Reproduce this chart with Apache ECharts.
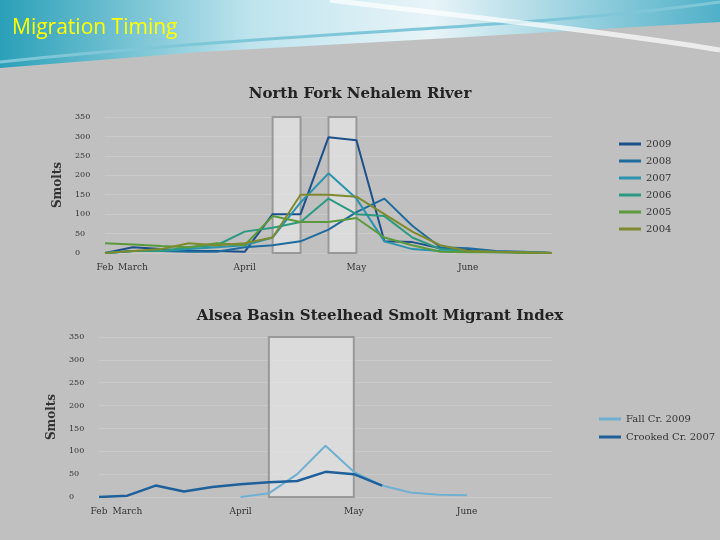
<!DOCTYPE html>
<html><head><meta charset="utf-8">
<script src="https://cdn.jsdelivr.net/npm/echarts@6/dist/echarts.min.js"></script>
<style>html,body{margin:0;padding:0;background:#c0c0c0}#main{width:720px;height:540px}</style>
</head><body><div id="main"></div>
<script>
var weeks = ['Feb','March','','','','April','','','','May','','','','June','','',''];
// North Fork Nehalem River (weekly smolts)
var y2009 = [0,15,10,5,5,3,100,100,298,290,30,28,12,8,3,2,0];
var y2008 = [0,5,5,3,3,15,20,30,60,105,140,70,15,12,5,3,0];
var y2007 = [0,5,5,10,15,20,40,130,205,140,30,10,5,3,2,2,0];
var y2006 = [0,5,5,15,20,55,65,80,140,100,95,40,10,5,3,2,0];
var y2005 = [25,22,18,15,25,20,95,80,80,90,40,20,3,2,2,0,0];
var y2004 = [0,5,10,25,20,25,40,150,150,145,100,55,20,5,3,2,0];
// Alsea Basin index
var fallCr2009 = [null,null,null,null,null,0,8,50,112,55,25,10,5,4,null,null,null];
var crookedCr2007 = [0,3,25,12,22,28,32,35,55,50,25,null,null,null,null,null,null];
var topNames = ['2009','2008','2007','2006','2005','2004'];
var topColors = ['#1d4f8a','#1f6b9e','#2a93ad','#2b9a80','#5b9a3c','#7f8a2e'];

var myChart = echarts.init(document.getElementById('main'));
var serif = 'DejaVu Serif';

function xAxisOpt(gi){
    return {type:'category',gridIndex:gi,data:weeks,boundaryGap:false,
        axisLine:{show:false},axisTick:{show:false},
        axisLabel:{interval:0,color:'#333',fontFamily:serif,fontSize:9,margin:10}};
}
function yAxisOpt(gi){
    return {type:'value',gridIndex:gi,min:0,max:350,interval:50,name:'Smolts',
        nameLocation:'middle',nameGap:38,nameRotate:90,
        nameTextStyle:{fontFamily:serif,fontWeight:'bold',fontSize:12,color:'#333'},
        axisLabel:{color:'#333',fontFamily:serif,fontSize:8,margin:30,align:'left'},
        splitLine:{lineStyle:{color:'#cacaca'}}};
}
function shade(gi,ranges){
    return {type:'line',xAxisIndex:gi,yAxisIndex:gi,data:[],z:10,silent:true,
        markArea:{silent:true,itemStyle:{color:'rgba(228,228,228,0.75)',borderColor:'#999',borderWidth:2},
            data:ranges.map(function(r){return [{xAxis:r[0],yAxis:0},{xAxis:r[1],yAxis:350}];})}};
}

var topData = [y2009,y2008,y2007,y2006,y2005,y2004];
var series = topData.map(function(d,i){
    return {name:topNames[i],type:'line',xAxisIndex:0,yAxisIndex:0,data:d,symbol:'none',
        lineStyle:{width:2,color:topColors[i]},itemStyle:{color:topColors[i]}};
});
series.push(shade(0,[[6,7],[8,9]]));
series.push({name:'Fall Cr. 2009',type:'line',xAxisIndex:1,yAxisIndex:1,data:fallCr2009,symbol:'none',
    lineStyle:{width:2,color:'#6fb0d2'},itemStyle:{color:'#6fb0d2'}});
series.push({name:'Crooked Cr. 2007',type:'line',xAxisIndex:1,yAxisIndex:1,data:crookedCr2007,symbol:'none',
    lineStyle:{width:2.5,color:'#1f5f9a'},itemStyle:{color:'#1f5f9a'}});
series.push(shade(1,[[6,9]]));

var option = {
    backgroundColor:'#c0c0c0',
    animation:false,
    graphic:[
        {type:'rect',shape:{x:0,y:0,width:720,height:72},z:-1,
            style:{fill:new echarts.graphic.LinearGradient(0,0,1,0,[{offset:0,color:'#2aa0b8'},{offset:0.35,color:'#bfe4ee'},{offset:0.6,color:'#e8f4f8'},{offset:1,color:'#4fb0c8'}])}},
        {type:'polygon',shape:{points:[[0,80],[0,68],[200,52],[450,38],[720,22],[720,80]]},style:{fill:'#c0c0c0'}},
        {type:'bezierCurve',shape:{x1:0,y1:62,x2:720,y2:2,cpx1:300,cpy1:30,cpx2:520,cpy2:30},style:{stroke:'#7fc7d8',lineWidth:3,fill:null}},
        {type:'bezierCurve',shape:{x1:330,y1:0,x2:720,y2:50,cpx1:450,cpy1:15,cpx2:600,cpy2:30},style:{stroke:'#ffffff',lineWidth:5,fill:null,opacity:0.7}},
        {type:'text',left:12,top:18,style:{text:'Migration Timing',fill:'#ffff00',fontSize:21,fontFamily:'Open Sans'}}
    ],
    title:[
        {text:'North Fork Nehalem River',left:355,top:82,textAlign:'center',
            textStyle:{fontFamily:serif,fontWeight:'bold',fontSize:15,color:'#222'}},
        {text:'Alsea Basin Steelhead Smolt Migrant Index',left:375,top:304,textAlign:'center',
            textStyle:{fontFamily:serif,fontWeight:'bold',fontSize:15,color:'#222'}}
    ],
    legend:[
        {data:topNames,orient:'vertical',left:614,top:134,itemGap:7,itemWidth:22,itemHeight:3,
            icon:'rect',textStyle:{fontFamily:serif,fontSize:10,color:'#333'}},
        {data:['Fall Cr. 2009','Crooked Cr. 2007'],orient:'vertical',left:594,top:409,itemGap:8,
            itemWidth:22,itemHeight:3,icon:'rect',textStyle:{fontFamily:serif,fontSize:10,color:'#333'}}
    ],
    grid:[
        {left:105,width:447,top:117,height:136,containLabel:false},
        {left:99,width:453,top:337,height:160,containLabel:false}
    ],
    xAxis:[xAxisOpt(0),xAxisOpt(1)],
    yAxis:[yAxisOpt(0),yAxisOpt(1)],
    series:series
};
myChart.setOption(option);
</script>
</body></html>
